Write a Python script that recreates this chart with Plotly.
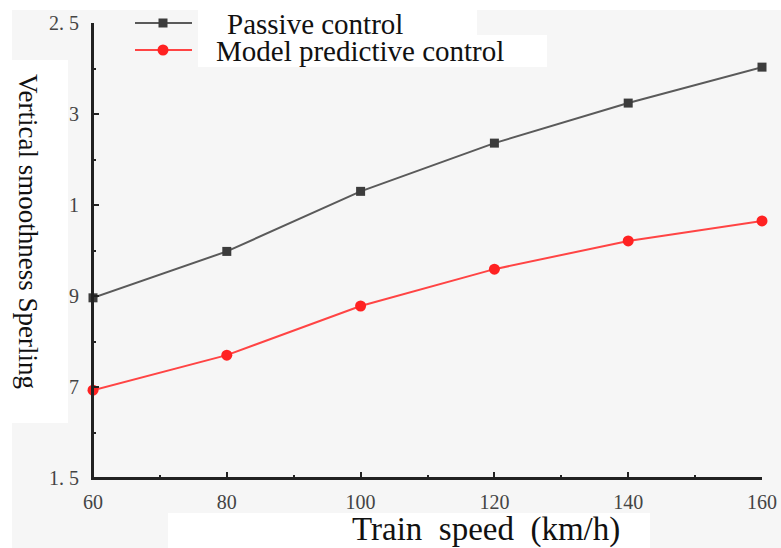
import plotly.graph_objects as go

speed = [60, 80, 100, 120, 140, 160]
passive = [1.896, 1.998, 2.13, 2.236, 2.324, 2.403]
mpc = [1.693, 1.77, 1.878, 1.959, 2.021, 2.065]
y_tickvals = [2.5, 2.3, 2.1, 1.9, 1.7, 1.5]
y_ticktext = ["2. 5", "3", "1", "9", "7", "1. 5"]
x_tickvals = [60, 80, 100, 120, 140, 160]
series_names = ["Passive control", "Model predictive control"]
x_title = "Train  speed  (km/h)"
y_title = "Vertical smoothness Sperling"

serif = "Liberation Serif, Times New Roman, serif"

# figure geometry (page body margin is removed below, so page px == figure px)
W, H = 781, 548
L, R, T, B = 93, 19, 10, 70
PW, PH = W - L - R, H - T - B
PLOT_TOP = 23


def px(xp):
    return (xp - L) / PW


def py(yp):
    return (H - B - yp) / PH


GRAY = "#f6f6f6"
PASSIVE_LINE, PASSIVE_MK = "#5a5a5a", "#3c3c3c"
MPC_LINE, MPC_MK = "#ff4444", "#ff2222"

fig = go.Figure()
fig.add_trace(go.Scatter(
    x=speed, y=passive, mode="lines+markers", name=series_names[0],
    line=dict(color=PASSIVE_LINE, width=2),
    marker=dict(symbol="square", size=9, color=PASSIVE_MK),
    cliponaxis=False, showlegend=False,
))
fig.add_trace(go.Scatter(
    x=speed, y=mpc, mode="lines+markers", name=series_names[1],
    line=dict(color=MPC_LINE, width=2),
    marker=dict(symbol="circle", size=11, color=MPC_MK),
    cliponaxis=False, showlegend=False,
))

shapes = [
    # gray page background and white patches
    dict(type="rect", xref="paper", yref="paper", x0=px(12), x1=px(790), y0=py(10), y1=py(560),
         fillcolor=GRAY, line=dict(width=0), layer="below"),
    dict(type="rect", xref="paper", yref="paper", x0=px(198), x1=px(477), y0=py(3), y1=py(35),
         fillcolor="white", line=dict(width=0), layer="below"),
    dict(type="rect", xref="paper", yref="paper", x0=px(198), x1=px(547), y0=py(35), y1=py(67),
         fillcolor="white", line=dict(width=0), layer="below"),
    dict(type="rect", xref="paper", yref="paper", x0=px(12), x1=px(68), y0=py(60), y1=py(423),
         fillcolor="white", line=dict(width=0), layer="below"),
    dict(type="rect", xref="paper", yref="paper", x0=px(168), x1=px(650), y0=py(513), y1=py(560),
         fillcolor="white", line=dict(width=0), layer="below"),
    # axis lines
    dict(type="line", xref="x domain", yref="y domain", x0=0, x1=1, y0=0, y1=0,
         line=dict(color="#222", width=2), layer="above"),
    dict(type="line", xref="x domain", yref="y domain", x0=0, x1=0, y0=0, y1=1,
         line=dict(color="#222", width=2), layer="above"),
    # legend glyph lines
    dict(type="line", xref="paper", yref="paper", x0=px(135), x1=px(192), y0=py(23), y1=py(23),
         line=dict(color=PASSIVE_LINE, width=2)),
    dict(type="line", xref="paper", yref="paper", x0=px(135), x1=px(192), y0=py(50), y1=py(50),
         line=dict(color=MPC_LINE, width=2)),
    # legend glyph markers
    dict(type="rect", xref="paper", yref="paper", x0=px(158.5), x1=px(167.5), y0=py(18.5), y1=py(27.5),
         fillcolor=PASSIVE_MK, line=dict(width=0)),
    dict(type="circle", xref="paper", yref="paper", x0=px(157.5), x1=px(168.5), y0=py(44.5), y1=py(55.5),
         fillcolor=MPC_MK, line=dict(width=0)),
]

annotations = [
    dict(text=series_names[0], xref="paper", yref="paper", x=px(225), y=py(24),
         xanchor="left", yanchor="middle", showarrow=False,
         font=dict(size=29, family=serif, color="#111")),
    dict(text=series_names[1], xref="paper", yref="paper", x=px(214), y=py(51),
         xanchor="left", yanchor="middle", showarrow=False,
         font=dict(size=29, family=serif, color="#111")),
    dict(text=x_title, xref="paper", yref="paper", x=px(486), y=py(529),
         xanchor="center", yanchor="middle", showarrow=False,
         font=dict(size=33, family=serif, color="#111")),
    dict(text=y_title, xref="paper", yref="paper", x=px(28), y=py(231),
         xanchor="center", yanchor="middle", showarrow=False, textangle=90,
         font=dict(size=27, family=serif, color="#111")),
]

fig.update_layout(
    width=W, height=H,
    margin=dict(l=L, r=R, t=T, b=B, autoexpand=False),
    paper_bgcolor="white",
    plot_bgcolor="rgba(0,0,0,0)",
    font=dict(family=serif, color="#111"),
    showlegend=False,
    xaxis=dict(
        range=[60, 160], tickvals=x_tickvals,
        showline=True, linecolor="#222", linewidth=2,
        ticks="inside", ticklen=6, tickwidth=2, tickcolor="#222",
        minor=dict(ticks="inside", ticklen=3, tickwidth=2, tickcolor="#222", dtick=10),
        showgrid=False, zeroline=False, automargin=False,
        ticklabelstandoff=5,
        tickfont=dict(size=20, family=serif, color="#444"),
    ),
    yaxis=dict(
        domain=[0, (H - B - PLOT_TOP) / PH],
        range=[1.5, 2.5], tickvals=y_tickvals, ticktext=y_ticktext,
        showline=True, linecolor="#222", linewidth=2,
        ticks="inside", ticklen=6, tickwidth=2, tickcolor="#222",
        minor=dict(ticks="inside", ticklen=3, tickwidth=2, tickcolor="#222", dtick=0.1),
        showgrid=False, zeroline=False, automargin=False,
        ticklabelstandoff=8,
        tickfont=dict(size=20, family=serif, color="#444"),
    ),
    shapes=shapes,
    annotations=annotations,
)

fig.write_html(
    "out.html",
    config={"displayModeBar": False},
    post_script="document.body.style.margin='0';document.body.style.overflow='hidden';",
)
